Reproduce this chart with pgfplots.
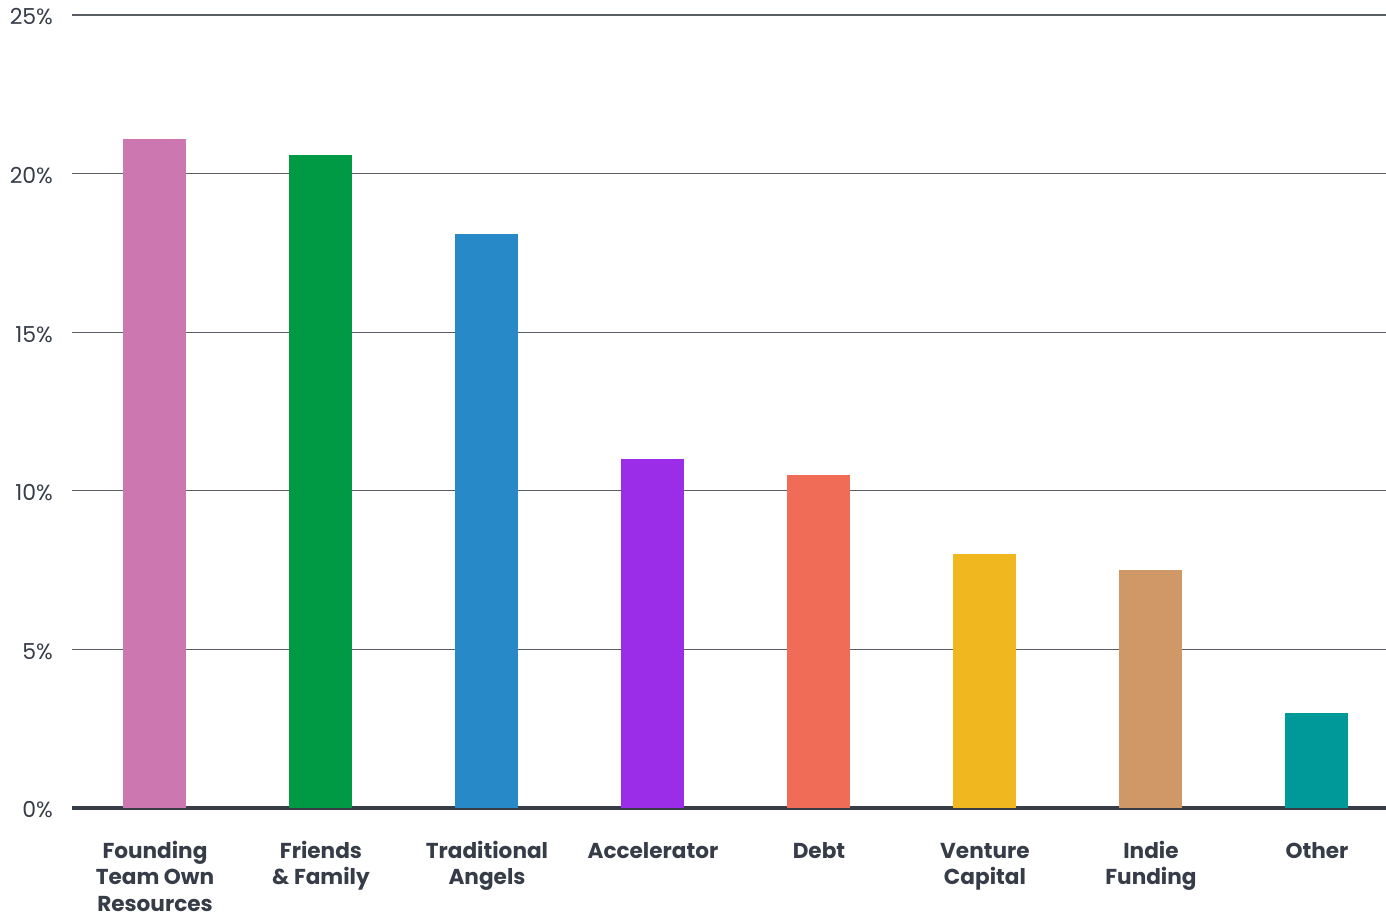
\documentclass[border=0pt]{standalone}
\usepackage{pgfplots}
\pgfplotsset{compat=1.18}
\usepackage{fontspec}
\setmainfont{Poppins}
\definecolor{txt}{HTML}{373D48}
\definecolor{grd}{HTML}{5A5F66}
\definecolor{c1}{HTML}{CC77AF}
\definecolor{c2}{HTML}{009A44}
\definecolor{c3}{HTML}{2789C7}
\definecolor{c4}{HTML}{9B2DE9}
\definecolor{c5}{HTML}{F06C56}
\definecolor{c6}{HTML}{F0B81E}
\definecolor{c7}{HTML}{D09866}
\definecolor{c8}{HTML}{009999}
\newcommand{\lab}[1]{\begin{tabular}[t]{@{}c@{}}#1\end{tabular}}
\begin{document}
\begin{tikzpicture}
\path[use as bounding box] (-36pt,-54pt) rectangle (657pt,404pt);
\begin{axis}[
  at={(0pt,0pt)}, anchor=south west,
  scale only axis,
  width=657pt, height=396.5pt,
  xmin=-0.5, xmax=7.416,
  ymin=0, ymax=25,
  ytick={0,5,10,15,20,25},
  yticklabels={0\%,5\%,10\%,15\%,20\%,25\%},
  xtick={0,1,2,3,4,5,6,7},
  xticklabels={{\lab{Founding\\Team Own\\Resources}},{\lab{Friends\\\& Family}},{\lab{Traditional\\Angels}},{\lab{Accelerator}},{\lab{Debt}},{\lab{Venture\\Capital}},{\lab{Indie\\Funding}},{\lab{Other}}},
  axis x line=bottom,
  axis y line*=left,
  y axis line style={draw=none},
  x axis line style={line width=1.6pt, color=txt, -},
  major tick length=0pt,
  ymajorgrids,
  grid style={line width=0.6pt, color=grd},
  yticklabel style={font=\fontsize{11}{13}\selectfont, text=txt, anchor=east, xshift=-6pt, yshift=-1pt},
  xticklabel style={font=\fontsize{10.8}{13.3}\selectfont\bfseries, text=txt, anchor=base, yshift=-25pt},
  ybar, bar width=31.5pt, bar shift=0pt,
  every axis plot/.append style={draw=none},
]
\addplot[fill=c1] coordinates {(0,21.1)};
\addplot[fill=c2] coordinates {(1,20.6)};
\addplot[fill=c3] coordinates {(2,18.1)};
\addplot[fill=c4] coordinates {(3,11.0)};
\addplot[fill=c5] coordinates {(4,10.5)};
\addplot[fill=c6] coordinates {(5,8.0)};
\addplot[fill=c7] coordinates {(6,7.5)};
\addplot[fill=c8] coordinates {(7,3.0)};
\end{axis}
\end{tikzpicture}
\end{document}
